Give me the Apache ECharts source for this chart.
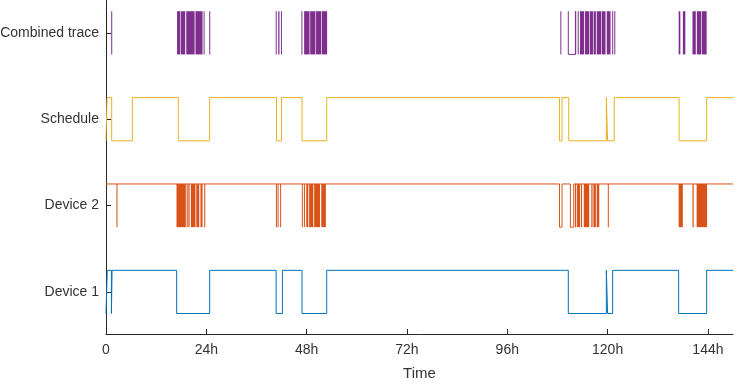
<!DOCTYPE html>
<html>
<head>
<meta charset="utf-8">
<script src="https://cdn.jsdelivr.net/npm/echarts@6/dist/echarts.min.js"></script>
<style>
html,body{margin:0;padding:0;background:#fff;}
#chart{width:741px;height:384px;}
</style>
</head>
<body>
<div id="chart"></div>
<script>
// ---- Data (hours) ----
const traceNames = ['Device 1', 'Device 2', 'Schedule', 'Combined trace'];
const traceLevels = [1, 2, 3, 4];
const xTicks = [0, 24, 48, 72, 96, 120, 144];
const xTickLabels = ['0', '24h', '48h', '72h', '96h', '120h', '144h'];
const xMax = 150;

// Device 1: starts low (0), toggles at each edge time
const device1Start = 0;
const device1Edges = [0.3, 1.3, 1.45, 16.9, 24.8, 40.7, 42.2, 46.9, 52.8, 110.6, 119.7, 120.0, 121.2, 137.0, 143.7];

// Schedule: starts low (0), toggles at each edge time
const scheduleStart = 0;
const scheduleEdges = [0.25, 1.36, 6.3, 17.3, 24.8, 40.8, 42.0, 46.9, 52.8, 108.5, 109.1, 110.7, 119.7, 120.0, 121.6, 137.1, 143.7];

// Device 2: high baseline, outlined low pulses and dense (filled) low bursts [start, end]
const device2Pulses = [[108.5, 109.1], [111.1, 111.9]];
const device2Blocks = [
  [2.5, 2.75],
  [16.86, 19.1], [19.3, 19.55], [19.7, 20.0], [20.3, 21.4], [21.6, 22.3], [22.6, 23.1], [23.5, 23.75],
  [40.65, 40.85], [41.05, 41.25], [41.65, 41.85],
  [46.85, 47.05], [47.35, 47.55], [47.9, 48.4], [48.6, 49.6], [49.8, 51.2], [51.5, 52.6],
  [112.2, 112.5], [112.7, 113.4], [113.6, 113.9], [114.3, 115.6], [116.1, 116.4], [116.6, 117.2], [117.4, 118.0], [120.05, 120.25],
  [137.0, 138.0], [140.3, 140.6], [141.3, 143.8]
];

// Combined trace: outlined pulses and dense (filled) bursts [start, end]
const combinedPulses = [[110.6, 112.3]];
const combinedBlocks = [
  [1.25, 1.45],
  [17.0, 17.8], [17.95, 18.95], [19.2, 21.2], [21.4, 23.1], [23.35, 23.55], [24.7, 24.9],
  [40.6, 40.8], [41.2, 41.5], [41.85, 42.05],
  [46.75, 46.95], [47.4, 48.7], [48.85, 50.1], [50.25, 51.5], [51.65, 52.9],
  [108.7, 108.9], [112.25, 112.45], [112.85, 113.05], [113.4, 114.4], [114.6, 115.6], [115.75, 116.5], [116.65, 117.2],
  [117.4, 118.5], [118.65, 119.5], [119.8, 120.7], [121.1, 121.3], [121.6, 121.8],
  [137.0, 137.4], [138.0, 138.6], [140.3, 141.1], [141.35, 142.4], [142.55, 143.7]
];

// ---- Helpers that build series data from the arrays ----
const AMP = 0.25;
function stepPoints(level, start, edges) {
  const pts = [];
  let s = start;
  pts.push([0, level + (s ? AMP : -AMP)]);
  edges.forEach(t => {
    pts.push([t, level + (s ? AMP : -AMP)]);
    s = 1 - s;
    pts.push([t, level + (s ? AMP : -AMP)]);
  });
  pts.push([xMax, level + (s ? AMP : -AMP)]);
  return pts;
}
function baselineWithPulses(level, pulses) {
  const pts = [[0, level + AMP]];
  pulses.forEach(([a, b]) => {
    pts.push([a, level + AMP], [a, level - AMP], [b, level - AMP], [b, level + AMP]);
  });
  pts.push([xMax, level + AMP]);
  return pts;
}
function pulsesOnly(level, pulses) {
  const pts = [];
  pulses.forEach(([a, b]) => {
    pts.push([a, level + AMP], [a, level - AMP], [b, level - AMP], [b, level + AMP], [null, null]);
  });
  return pts;
}
function blockData(level, blocks) {
  return blocks.map(([a, b]) => [a, b, level]);
}

const C = {
  blue: '#0072BD', orange: '#D95319', yellow: '#EDB120', purple: '#7E2F8E', axis: '#262626', text: '#333333'
};
const FONT = 'Liberation Sans, Arial, sans-serif';

function blockSeries(data, color) {
  return {
    type: 'custom',
    data: data,
    encode: { x: [0, 1], y: 2 },
    renderItem: function (params, api) {
      const a = api.value(0), b = api.value(1), lvl = api.value(2);
      const p1 = api.coord([a, lvl + AMP]);
      const p2 = api.coord([b, lvl - AMP]);
      const w = Math.max(p2[0] - p1[0], 1);
      return {
        type: 'rect',
        shape: { x: p1[0], y: p1[1], width: w, height: p2[1] - p1[1] },
        style: { fill: color, stroke: null }
      };
    },
    animation: false,
    silent: true
  };
}

function lineSeries(data, color) {
  return {
    type: 'line',
    data: data,
    showSymbol: false,
    symbol: 'none',
    connectNulls: false,
    lineStyle: { color: color, width: 1 },
    animation: false,
    silent: true
  };
}

const chart = echarts.init(document.getElementById('chart'), null, { renderer: 'canvas' });
chart.setOption({
  backgroundColor: '#ffffff',
  animation: false,
  grid: { left: 106, right: 8, top: 0, bottom: 50, containLabel: false, outerBoundsMode: 'none' },
  xAxis: {
    type: 'value',
    min: 0,
    max: xMax,
    name: 'Time',
    nameLocation: 'middle',
    nameGap: 32,
    nameTextStyle: { color: C.text, fontSize: 15, fontFamily: FONT },
    axisLine: { show: true, lineStyle: { color: C.axis, width: 1 } },
    axisTick: { show: true, inside: true, length: 5, customValues: xTicks, lineStyle: { color: C.axis } },
    axisLabel: {
      customValues: xTicks,
      formatter: v => xTickLabels[xTicks.indexOf(v)],
      color: C.text, fontSize: 14, margin: 9,
      fontFamily: FONT
    },
    splitLine: { show: false }
  },
  yAxis: {
    type: 'value',
    min: 0.513,
    max: 4.38,
    axisLine: { show: true, lineStyle: { color: C.axis, width: 1 } },
    axisTick: { show: true, inside: true, length: 5, customValues: traceLevels, lineStyle: { color: C.axis } },
    axisLabel: {
      customValues: traceLevels,
      formatter: v => traceNames[traceLevels.indexOf(v)],
      color: C.text, fontSize: 14, margin: 7,
      fontFamily: FONT
    },
    splitLine: { show: false }
  },
  series: [
    lineSeries(stepPoints(1, device1Start, device1Edges), C.blue),
    lineSeries(baselineWithPulses(2, device2Pulses), C.orange),
    blockSeries(blockData(2, device2Blocks), C.orange),
    lineSeries(stepPoints(3, scheduleStart, scheduleEdges), C.yellow),
    lineSeries(pulsesOnly(4, combinedPulses), C.purple),
    blockSeries(blockData(4, combinedBlocks), C.purple)
  ]
});
</script>
</body>
</html>
